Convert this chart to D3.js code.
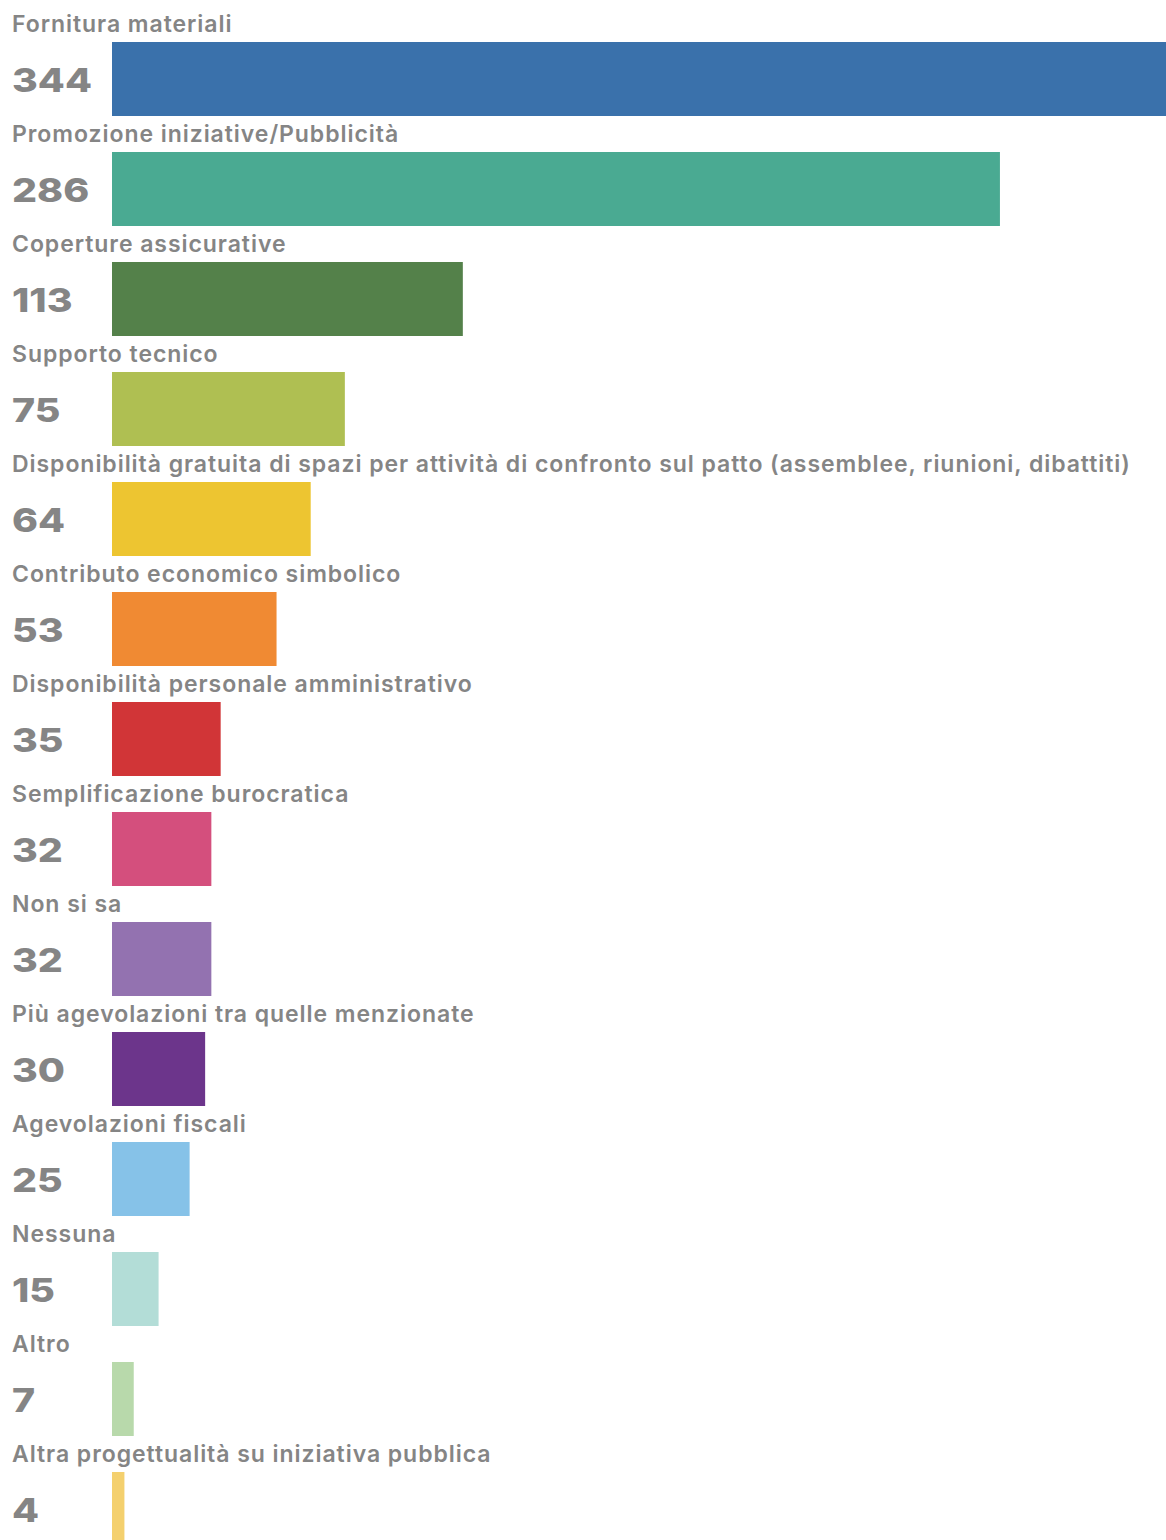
<!DOCTYPE html>
<html>
<head>
<meta charset="utf-8">
<script src="https://cdn.jsdelivr.net/npm/d3@7"></script>
<style>
    body { margin: 0; background: #fff; overflow: hidden; }
    .label { font-family: Inter, "Noto Sans", sans-serif; font-weight: 600; font-size: 23px; letter-spacing: 0.95px; fill: #858585; }
    .value { font-family: Inter, "Liberation Sans", sans-serif; font-weight: 800; font-size: 33px; fill: #858585;
             font-variant-numeric: proportional-nums; }
</style>
</head>
<body>
<script>
const categories = [
    "Fornitura materiali",
    "Promozione iniziative/Pubblicità",
    "Coperture assicurative",
    "Supporto tecnico",
    "Disponibilità gratuita di spazi per attività di confronto sul patto (assemblee, riunioni, dibattiti)",
    "Contributo economico simbolico",
    "Disponibilità personale amministrativo",
    "Semplificazione burocratica",
    "Non si sa",
    "Più agevolazioni tra quelle menzionate",
    "Agevolazioni fiscali",
    "Nessuna",
    "Altro",
    "Altra progettualità su iniziativa pubblica"
];
const values = [344, 286, 113, 75, 64, 53, 35, 32, 32, 30, 25, 15, 7, 4];
const colors = [
    "#3a71ab", "#4aaa92", "#54814a", "#afbf52", "#edc531", "#f08a33", "#d13537",
    "#d44f7d", "#9372b0", "#6c358b", "#86c2e8", "#b3ddd7", "#b8d9ab", "#f4d06e"
];

window.onload = drawChart;

function drawChart() {
    const width = 1166;
    const height = 1540;

    const svg = d3.select("body")
        .append("svg")
        .attr("width", width)
        .attr("height", height);

    // rows of 110px each
    const y = d3.scaleBand()
        .domain(categories)
        .range([0, 110 * categories.length])
        .paddingInner(0);

    // largest bar runs past the right edge
    const x = d3.scaleLinear()
        .domain([0, 344])
        .range([112, 1180]);

    const rows = svg.selectAll(".row")
        .data(categories)
        .enter()
        .append("g")
        .attr("class", "row")
        .attr("transform", d => "translate(0," + y(d) + ")");

    rows.append("rect")
        .attr("x", x(0))
        .attr("y", 42)
        .attr("height", 74)
        .attr("width", (d, i) => x(values[i]) - x(0))
        .style("fill", (d, i) => colors[i]);

    rows.append("text")
        .attr("class", "label")
        .attr("x", 12)
        .attr("y", 32)
        .text(d => d);

    // wide numerals: stretch horizontally so "344" spans about 80px
    const nums = rows.append("text")
        .attr("class", "value")
        .text((d, i) => values[i]);

    const w344 = nums.node().getComputedTextLength();
    const sx = 80 / w344;
    nums.attr("transform", "translate(12,92) scale(" + sx + ",1)");
}
</script>
</body>
</html>
